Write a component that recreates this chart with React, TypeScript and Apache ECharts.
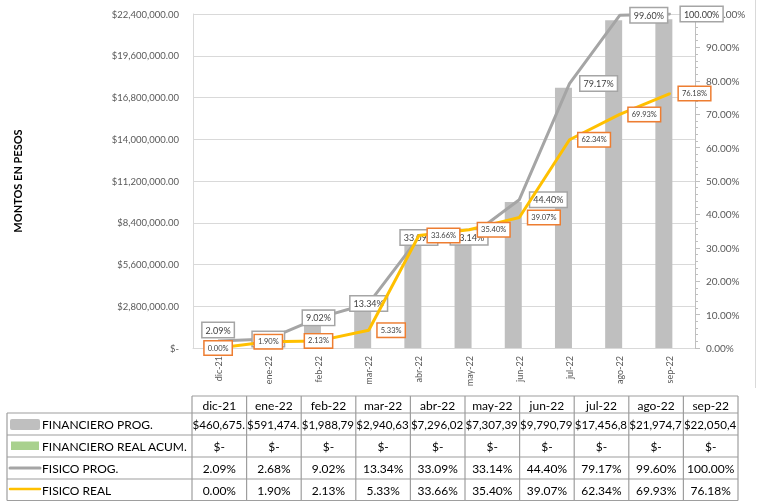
import React, { useEffect, useRef } from 'react';
import * as echarts from 'echarts';

const categories = ['dic-21', 'ene-22', 'feb-22', 'mar-22', 'abr-22', 'may-22', 'jun-22', 'jul-22', 'ago-22', 'sep-22'];
const financieroProg = [460675, 591474, 1988790, 2940630, 7296020, 7307390, 9790790, 17456800, 21974700, 22050400];
const financieroReal = [0, 0, 0, 0, 0, 0, 0, 0, 0, 0];
const fisicoProg = [2.09, 2.68, 9.02, 13.34, 33.09, 33.14, 44.4, 79.17, 99.6, 100.0];
const fisicoReal = [0.0, 1.9, 2.13, 5.33, 33.66, 35.4, 39.07, 62.34, 69.93, 76.18];
const seriesNames = ['FINANCIERO PROG.', 'FINANCIERO REAL ACUM.', 'FISICO PROG.', 'FISICO REAL'];
const leftAxisMax = 22400000;
const leftAxisStep = 2800000;
const rightAxisMax = 100;
const rightAxisStep = 10;

const FONT = 'Lato, "Liberation Sans", sans-serif';
const C_BAR = '#BFBFBF';
const C_GREEN = '#A9D18E';
const C_GRAY_LINE = '#A5A5A5';
const C_YELLOW = '#FFC000';
const C_ORANGE = '#ED7D31';

const money = (v: number) =>
  v === 0 ? '$-' : '$' + v.toLocaleString('en-US', { minimumFractionDigits: 2, maximumFractionDigits: 2 });
const pct = (v: number) => v.toFixed(2) + '%';

function buildTable() {
  const els: any[] = [];
  const tLeft = 7;
  const col0 = 192;
  const tRight = 738;
  const rowY = [396, 413, 435, 457, 479, 500.5];
  const colW = (tRight - col0) / categories.length;
  const stroke = '#9E9E9E';
  const lw = 1.2;
  const line = (x1: number, y1: number, x2: number, y2: number) => ({
    type: 'line',
    silent: true,
    shape: { x1, y1, x2, y2 },
    style: { stroke, lineWidth: lw },
  });
  els.push(line(col0, rowY[0], tRight, rowY[0]));
  for (let r = 1; r < rowY.length; r++) els.push(line(tLeft, rowY[r], tRight, rowY[r]));
  els.push(line(tLeft, rowY[1], tLeft, rowY[5]));
  for (let c = 0; c <= categories.length; c++) {
    const x = col0 + c * colW;
    els.push(line(x, rowY[0], x, rowY[5]));
  }
  const txt = (text: string, x: number, y: number, align: string, extra: any = {}) => ({
    type: 'text',
    silent: true,
    x,
    y,
    style: {
      text,
      fill: '#000',
      fontSize: 12,
      fontFamily: FONT,
      align,
      verticalAlign: 'middle',
      ...extra,
    },
  });
  const rowMid = (r: number) => (rowY[r] + rowY[r + 1]) / 2 + 0.5;
  categories.forEach((c, i) => els.push(txt(c, col0 + (i + 0.5) * colW, rowMid(0), 'center')));
  const rows = [
    financieroProg.map(money),
    financieroReal.map(money),
    fisicoProg.map(pct),
    fisicoReal.map(pct),
  ];
  rows.forEach((vals, r) => {
    vals.forEach((v, i) => {
      if (r === 0) {
        els.push(
          txt(v, col0 + i * colW + 0.5, rowMid(r + 1), 'left', {
            width: colW + 3,
            overflow: 'truncate',
            ellipsis: '',
            fontSize: 11.6,
          })
        );
      } else {
        els.push(txt(v, col0 + (i + 0.5) * colW, rowMid(r + 1), 'center'));
      }
    });
    els.push(txt(seriesNames[r], 42, rowMid(r + 1), 'left'));
  });
  // legend keys
  els.push({ type: 'rect', silent: true, shape: { x: 10, y: 419, width: 30, height: 11, r: 2 }, style: { fill: C_BAR } });
  els.push({ type: 'rect', silent: true, shape: { x: 11, y: 441.5, width: 28, height: 8.5 }, style: { fill: C_GREEN } });
  els.push({ type: 'line', silent: true, shape: { x1: 10, y1: 468, x2: 40, y2: 468 }, style: { stroke: C_GRAY_LINE, lineWidth: 3, lineCap: 'round' } });
  els.push({ type: 'line', silent: true, shape: { x1: 10, y1: 489, x2: 40, y2: 489 }, style: { stroke: C_YELLOW, lineWidth: 2.5, lineCap: 'round' } });
  // chart area right border
  els.push({ type: 'line', silent: true, shape: { x1: 755.5, y1: 0, x2: 755.5, y2: 388 }, style: { stroke: '#D9D9D9', lineWidth: 1 } });
  return els;
}

export default function App() {
  const ref = useRef<HTMLDivElement>(null);
  useEffect(() => {
    if (!ref.current) return;
    const chart = echarts.init(ref.current, undefined, { renderer: 'svg' });
    const grayLabelBase = {
      show: true,
      formatter: (p: any) => pct(p.value),
      backgroundColor: '#fff',
      borderColor: C_GRAY_LINE,
      borderWidth: 1.5,
      padding: [3, 3, 2, 3],
      fontSize: 9,
      fontFamily: FONT,
      color: '#404040',
    };
    const orangeLabelBase = {
      show: true,
      formatter: (p: any) => pct(p.value),
      backgroundColor: '#fff',
      borderColor: C_ORANGE,
      borderWidth: 1.5,
      padding: [3, 3, 2, 3],
      fontSize: 7.5,
      fontFamily: FONT,
      color: '#404040',
    };
    const grayData = fisicoProg.map((v, i) => ({
      value: v,
      label:
        i === 0
          ? { position: 'top', distance: 3 }
          : i <= 5
          ? { position: 'inside' }
          : { position: 'right', distance: 10 },
    }));
    const orangeData = fisicoReal.map((v, i) => ({
      value: v,
      label: i <= 2 ? { position: 'inside' } : { position: 'right', distance: 8 },
    }));
    chart.setOption({
      animation: false,
      textStyle: { fontFamily: FONT },
      grid: { left: 193, right: 64, top: 14, bottom: 153, containLabel: false },
      xAxis: {
        type: 'category',
        data: categories,
        axisLine: { show: true, lineStyle: { color: '#D9D9D9', width: 1 } },
        axisTick: { show: false },
        axisLabel: { rotate: 90, fontSize: 9, color: '#595959', margin: 8, fontFamily: FONT },
      },
      yAxis: [
        {
          type: 'value',
          min: 0,
          max: leftAxisMax,
          interval: leftAxisStep,
          name: 'MONTOS EN PESOS',
          nameLocation: 'middle',
          nameGap: 170,
          nameTextStyle: { fontSize: 11, fontWeight: 'bold', color: '#000', fontFamily: FONT },
          axisLine: { show: true, lineStyle: { color: '#D9D9D9' } },
          axisTick: { show: false },
          splitLine: { show: true, lineStyle: { color: '#D9D9D9', width: 1 } },
          axisLabel: { formatter: (v: number) => money(v), fontSize: 9.5, color: '#595959', margin: 14, fontFamily: FONT },
        },
        {
          type: 'value',
          min: 0,
          max: rightAxisMax,
          interval: rightAxisStep,
          position: 'right',
          axisLine: { show: true, lineStyle: { color: '#BFBFBF' } },
          axisTick: { show: true, length: 5, lineStyle: { color: '#BFBFBF' } },
          minorTick: { show: true, splitNumber: 5, length: 3, lineStyle: { color: '#BFBFBF' } },
          splitLine: { show: false },
          axisLabel: { formatter: (v: number) => pct(v), fontSize: 10, color: '#595959', margin: 11, fontFamily: FONT },
        },
      ],
      series: [
        {
          name: seriesNames[0],
          type: 'bar',
          yAxisIndex: 0,
          data: financieroProg,
          barWidth: 17,
          barGap: '-29%',
          itemStyle: { color: C_BAR },
          z: 2,
        },
        {
          name: seriesNames[1],
          type: 'bar',
          yAxisIndex: 0,
          data: financieroReal,
          barWidth: 17,
          itemStyle: { color: C_GREEN },
          z: 2,
        },
        {
          name: seriesNames[2],
          type: 'line',
          yAxisIndex: 1,
          data: grayData,
          symbol: 'circle',
          symbolSize: 2,
          itemStyle: { color: C_GRAY_LINE },
          lineStyle: { color: C_GRAY_LINE, width: 3 },
          label: grayLabelBase,
          z: 3,
        },
        {
          name: seriesNames[3],
          type: 'line',
          yAxisIndex: 1,
          data: orangeData,
          symbol: 'circle',
          symbolSize: 2,
          itemStyle: { color: C_YELLOW },
          lineStyle: { color: C_YELLOW, width: 3 },
          label: orangeLabelBase,
          z: 4,
        },
      ],
      graphic: buildTable(),
    });
    return () => chart.dispose();
  }, []);
  return <div ref={ref} style={{ position: 'fixed', left: 0, top: 0, width: 759, height: 501 }} />;
}
